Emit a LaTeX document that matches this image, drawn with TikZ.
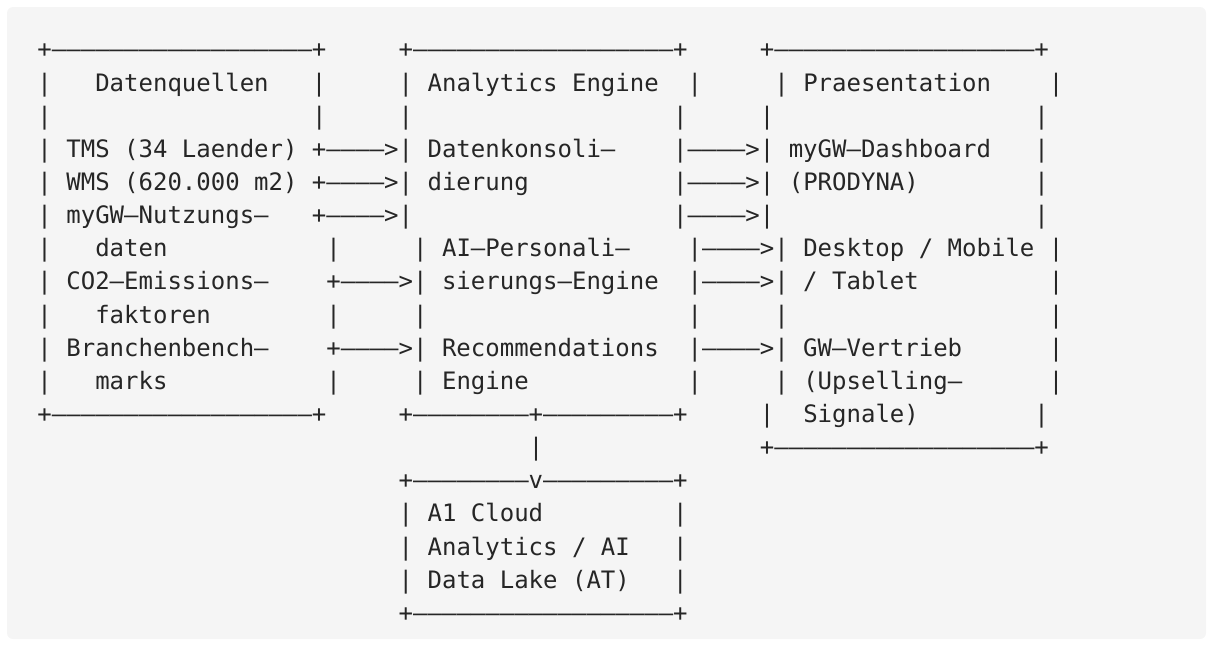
\documentclass[tikz,border=0pt]{standalone}
\usepackage{fontspec}
\newfontfamily\asciifont{DejaVu Sans Mono}
\definecolor{codebg}{HTML}{F5F5F5}
\definecolor{codefg}{HTML}{262626}
% runs of dashes and blanks, one character cell each
\newcommand\dashes[1]{\foreach\k in {1,...,#1}{–}}
\newcommand\gap[1]{\foreach\k in {1,...,#1}{\phantom{x}}}

\begin{document}
\begin{tikzpicture}[x=1pt,y=-1pt,
  txt/.style={anchor=base west,inner sep=0pt,text=codefg,font=\asciifont\fontsize{24}{24}\selectfont},
  declare function={cx(\c)=37.28+14.449*\c; ry(\r)=24.7+33.15*\r;}]
\useasboundingbox (0,0) rectangle (1213,646);
\fill[codebg,rounded corners=6pt] (7,7) rectangle (1206,639);
% boxes in the first rows
\node[txt] (r1) at ({cx(0)},{ry(1)}) {+\dashes{18}+\gap{5}+\dashes{18}+\gap{5}+\dashes{18}+};
\node[txt] (r2) at ({cx(0)},{ry(2)}) {|\gap{3}Datenquellen\gap{3}|\gap{5}| Analytics Engine\gap{2}|\gap{5}| Praesentation\gap{4}|};
\node[txt] (r3) at ({cx(0)},{ry(3)}) {|\gap{18}|\gap{5}|\gap{18}|\gap{5}|\gap{18}|};
\node[txt] (r4) at ({cx(0)},{ry(4)}) {| TMS (34 Laender) +\dashes{4}>| Datenkonsoli–\gap{4}|\dashes{4}>| myGW–Dashboard\gap{3}|};
\node[txt] (r5) at ({cx(0)},{ry(5)}) {| WMS (620.000 m2) +\dashes{4}>| dierung\gap{10}|\dashes{4}>| (PRODYNA)\gap{8}|};
\node[txt] (r6) at ({cx(0)},{ry(6)}) {| myGW–Nutzungs–\gap{3}+\dashes{4}>|\gap{18}|\dashes{4}>|\gap{18}|};
\node[txt] (r7) at ({cx(0)},{ry(7)}) {|\gap{3}daten\gap{11}|\gap{5}| AI–Personali–\gap{4}|\dashes{4}>| Desktop / Mobile |};
\node[txt] (r8) at ({cx(0)},{ry(8)}) {| CO2–Emissions–\gap{4}+\dashes{4}>| sierungs–Engine\gap{2}|\dashes{4}>| / Tablet\gap{9}|};
\node[txt] (r9) at ({cx(0)},{ry(9)}) {|\gap{3}faktoren\gap{8}|\gap{5}|\gap{18}|\gap{5}|\gap{18}|};
\node[txt] (r10) at ({cx(0)},{ry(10)}) {| Branchenbench–\gap{4}+\dashes{4}>| Recommendations\gap{2}|\dashes{4}>| GW–Vertrieb\gap{6}|};
\node[txt] (r11) at ({cx(0)},{ry(11)}) {|\gap{3}marks\gap{11}|\gap{5}| Engine\gap{11}|\gap{5}| (Upselling–\gap{6}|};
\node[txt] (r12) at ({cx(0)},{ry(12)}) {+\dashes{18}+\gap{5}+\dashes{8}+\dashes{9}+\gap{5}|\gap{2}Signale)\gap{8}|};
% data lake below the engine
\node[txt] (r13) at ({cx(34)},{ry(13)}) {|\gap{15}+\dashes{18}+};
\node[txt] (r14) at ({cx(25)},{ry(14)}) {+\dashes{8}v\dashes{9}+};
\node[txt] (r15) at ({cx(25)},{ry(15)}) {| A1 Cloud\gap{9}|};
\node[txt] (r16) at ({cx(25)},{ry(16)}) {| Analytics / AI\gap{3}|};
\node[txt] (r17) at ({cx(25)},{ry(17)}) {| Data Lake (AT)\gap{3}|};
\node[txt] (r18) at ({cx(25)},{ry(18)}) {+\dashes{18}+};
\end{tikzpicture}
\end{document}
